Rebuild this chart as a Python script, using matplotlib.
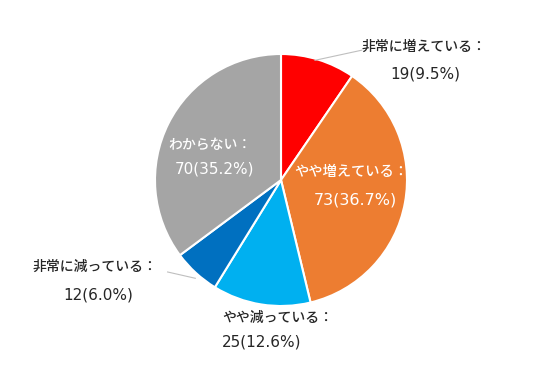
import matplotlib.pyplot as plt

plt.rcParams['font.family'] = ['DejaVu Sans', 'Noto Sans CJK JP']

# データ
categories = ['非常に増えている', 'やや増えている', 'やや減っている', '非常に減っている', 'わからない']
counts = [19, 73, 25, 12, 70]
percents = ['9.5%', '36.7%', '12.6%', '6.0%', '35.2%']
colors = ['#FF0000', '#ED7D31', '#00B0F0', '#0070C0', '#A5A5A5']

fig = plt.figure(figsize=(5.36, 3.71), dpi=100)
ax = fig.add_axes([155 / 536, 65 / 371, 252 / 536, 252 / 371])

wedges, _ = ax.pie(counts, colors=colors, startangle=90, counterclock=False,
                   radius=1, wedgeprops=dict(edgecolor='white', linewidth=1.5))
ax.set_xlim(-1, 1)
ax.set_ylim(-1, 1)
ax.set_aspect('equal')

# ラベル位置 (1行目, 2行目)
line1_pos = [(1.135, 1.056), (0.556, 0.063), (-0.468, -1.095), (-1.476, -0.690), (-0.563, 0.278)]
line2_pos = [(1.143, 0.841), (0.587, -0.159), (-0.468, -1.286), (-1.452, -0.913), (-0.524, 0.087)]
txt_colors = ['#262626', 'white', '#262626', '#262626', 'white']
aligns = ['center', 'center', 'left', 'center', 'center']
num_size = [11, 11.5, 11, 11, 11]
cat_size = [10, 10.3, 10, 10, 10]

for i in range(len(categories)):
    ax.text(*line1_pos[i], categories[i] + '：', ha=aligns[i], va='center',
            fontsize=cat_size[i], fontweight='medium', color=txt_colors[i], clip_on=False)
    ax.text(*line2_pos[i], f'{counts[i]}({percents[i]})', ha=aligns[i], va='center',
            fontsize=num_size[i], color=txt_colors[i], clip_on=False)

# 引き出し線
ax.plot([0.27, 0.64], [0.95, 1.03], color='#BFBFBF', lw=0.8, clip_on=False)
ax.plot([-0.90, -0.68], [-0.73, -0.78], color='#BFBFBF', lw=0.8, clip_on=False)

plt.savefig('out.png', dpi=100)
